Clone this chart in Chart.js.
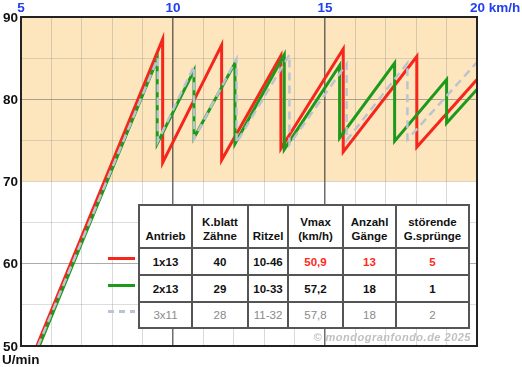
<!DOCTYPE html>
<html>
<head>
<meta charset="utf-8">
<script src="https://cdn.jsdelivr.net/npm/chart.js@4"></script>
<style>
  html, body { margin: 0; padding: 0; background: #fff; }
  #wrap { position: relative; width: 522px; height: 367px; font-family: "Liberation Sans", Arial, sans-serif; }
  #gearTable {
    position: absolute; left: 138px; top: 204px; width: 330px;
    border-collapse: collapse; background: #fff; table-layout: fixed;
    font-size: 11.5px; font-weight: bold; color: #111;
  }
  #gearTable td, #gearTable th { border: 2px solid #555; text-align: center; padding: 0; }
  #gearTable th { height: 37px; vertical-align: bottom; padding-bottom: 4px; white-space: pre-line; line-height: 14px; }
  #gearTable td { height: 25px; }
  .legendLine { position: absolute; left: 108px; width: 27px; height: 0; border-top: 3px solid; }
  #copy {
    position: absolute; right: 51px; top: 331px; font-size: 11px; font-style: italic; font-weight: bold;
    letter-spacing: 0.5px; color: #c0c0c0; font-family: "Liberation Sans", Arial, sans-serif;
  }
</style>
</head>
<body>
<div id="wrap">
  <canvas id="gearChart" width="522" height="367"></canvas>
  <table id="gearTable"></table>
  <div id="copy">© mondogranfondo.de 2025</div>
</div>
<script>
// =======================
// DATA
// =======================
// 1x13 (rot)
const speedRed   = [5.52, 9.66, 9.66, 11.60, 11.60, 13.55, 13.55, 15.60, 15.60, 18.02, 18.02, 20];
const cadenceRed = [50, 87.3, 72.3, 86.6, 72.6, 85.3, 74.0, 86.1, 73.6, 85.2, 74.2, 82.4];

// 2x13 (gr√ºn)
const speedGreen   = [5.60, 9.48, 9.48, 10.69, 10.69, 12.04, 12.04, 13.66, 13.66, 15.48, 15.48, 17.29, 17.29, 19.0, 19.0, 20];
const cadenceGreen = [50, 84.8, 74.6, 83.5, 75.3, 84.4, 74.6, 85.4, 73.9, 84.1, 75.3, 84.4, 74.9, 82.4, 77.1, 81.2];

// 3x11 (grau gestrichelt)
const speedGray   = [5.56, 9.50, 9.50, 10.69, 10.69, 12.09, 12.09, 13.83, 13.83, 15.71, 15.71, 17.71, 17.71, 20];
const cadenceGray = [50, 85.0, 74.9, 84.0, 75.2, 84.9, 74.7, 85.4, 74.5, 84.3, 75.0, 84.4, 75.1, 84.5];

const xTickLabels = [5, 10, 15, 20];
const yTickLabels = [50, 60, 70, 80, 90];

const tableHead = ["Antrieb", "K.blatt\nZähne", "Ritzel", "Vmax\n(km/h)", "Anzahl\nGänge", "störende\nG.sprünge"];
const row1x13 = ["1x13", "40", "10-46", "50,9", "13", "5"];
const row2x13 = ["2x13", "29", "10-33", "57,2", "18", "1"];
const row3x11 = ["3x11", "28", "11-32", "57,8", "18", "2"];

// =======================
// FARBEN
// =======================
const RED = "#f5261c";
const GREEN = "#1c9a1c";
const GRAY = "#bcc3d0";
const BLUE = "#2040f0";

function toPoints(xs, ys) {
  return xs.map((x, i) => ({ x, y: ys[i] }));
}

// =======================
// TABELLE
// =======================
function buildTable() {
  const t = document.getElementById("gearTable");
  const colW = [53, 56, 40, 55, 53, 73];
  let html = "<colgroup>" + colW.map(w => `<col style="width:${w}px">`).join("") + "</colgroup>";
  html += "<tr>" + tableHead.map(h => `<th>${h}</th>`).join("") + "</tr>";
  html += "<tr>" + row1x13.map((c, i) => `<td style="color:${i >= 3 ? "#ff2a1a" : "#111"}">${c}</td>`).join("") + "</tr>";
  html += "<tr>" + row2x13.map(c => `<td>${c}</td>`).join("") + "</tr>";
  html += "<tr>" + row3x11.map(c => `<td style="color:#8a8a8a;font-weight:normal;height:24px">${c}</td>`).join("") + "</tr>";
  t.innerHTML = html;

  const wrap = document.getElementById("wrap");
  [[RED, 257, "solid"], [GREEN, 284, "solid"], [GRAY, 310, "dashed"]].forEach(([col, top, style]) => {
    const d = document.createElement("div");
    d.className = "legendLine";
    d.style.top = top + "px";
    if (style === "dashed") {
      d.style.borderTop = "none";
      d.style.height = "3px";
      d.style.background = `repeating-linear-gradient(90deg, ${col} 0 6px, transparent 6px 11px)`;
    } else {
      d.style.borderTopColor = col;
    }
    wrap.appendChild(d);
  });
}

// =======================
// PLUGIN: Hintergrund, Rahmen, Beschriftung
// =======================
const decoPlugin = {
  id: "deco",
  beforeDraw(chart) {
    const { ctx, chartArea: a, scales } = chart;
    const y90 = scales.y.getPixelForValue(90);
    const y70 = scales.y.getPixelForValue(70);
    ctx.save();
    ctx.fillStyle = "#fde6bd";
    ctx.fillRect(a.left, y90, a.right - a.left, y70 - y90);
    ctx.restore();
  },
  afterDraw(chart) {
    const { ctx, chartArea: a, scales } = chart;
    ctx.save();
    ctx.strokeStyle = "#222";
    ctx.lineWidth = 2;
    ctx.strokeRect(a.left, a.top, a.right - a.left, a.bottom - a.top);

    ctx.font = "bold 13.5px 'Liberation Sans', Arial, sans-serif";
    ctx.fillStyle = BLUE;
    ctx.textBaseline = "middle";
    xTickLabels.forEach(v => {
      const px = scales.x.getPixelForValue(v);
      if (v === 20) {
        ctx.textAlign = "left";
        ctx.fillText("20 km/h", px - 7, 8);
      } else {
        ctx.textAlign = "center";
        ctx.fillText(String(v), px, 8);
      }
    });

    ctx.fillStyle = "#111";
    ctx.textAlign = "right";
    yTickLabels.forEach(v => {
      ctx.fillText(String(v), 18, scales.y.getPixelForValue(v) + 1);
    });
    ctx.textAlign = "left";
    ctx.fillText("U/min", 2, 360);
    ctx.restore();
  }
};

// =======================
// CHART
// =======================
buildTable();

const ctx = document.getElementById("gearChart").getContext("2d");
new Chart(ctx, {
  type: "line",
  data: {
    datasets: [
      {
        label: "3x11",
        data: toPoints(speedGray, cadenceGray),
        borderColor: GRAY,
        borderWidth: 2.5,
        borderDash: [8, 5],
        order: 0
      },
      {
        label: "2x13",
        data: toPoints(speedGreen, cadenceGreen),
        borderColor: GREEN,
        borderWidth: 3,
        order: 1
      },
      {
        label: "1x13",
        data: toPoints(speedRed, cadenceRed),
        borderColor: RED,
        borderWidth: 3,
        order: 2
      }
    ]
  },
  options: {
    responsive: false,
    animation: false,
    layout: { padding: { left: 21, top: 17, right: 45, bottom: 21 } },
    elements: { point: { radius: 0 }, line: { tension: 0, fill: false } },
    plugins: { legend: { display: false }, tooltip: { enabled: false } },
    scales: {
      x: {
        type: "linear",
        position: "top",
        min: 5,
        max: 20,
        ticks: { display: false, stepSize: 1 },
        border: { display: false },
        grid: {
          drawTicks: false,
          color: c => (c.tick.value === 10 || c.tick.value === 15) ? "rgba(60,60,60,0.75)" : "rgba(120,120,120,0.28)",
          lineWidth: c => (c.tick.value === 10 || c.tick.value === 15) ? 1.5 : 1
        }
      },
      y: {
        type: "linear",
        min: 50,
        max: 90,
        ticks: { display: false, stepSize: 5 },
        border: { display: false },
        grid: {
          drawTicks: false,
          color: c => (c.tick.value === 80 || c.tick.value === 60) ? "rgba(90,90,90,0.5)" : "rgba(120,120,120,0.25)"
        }
      }
    }
  },
  plugins: [decoPlugin]
});
</script>
</body>
</html>
